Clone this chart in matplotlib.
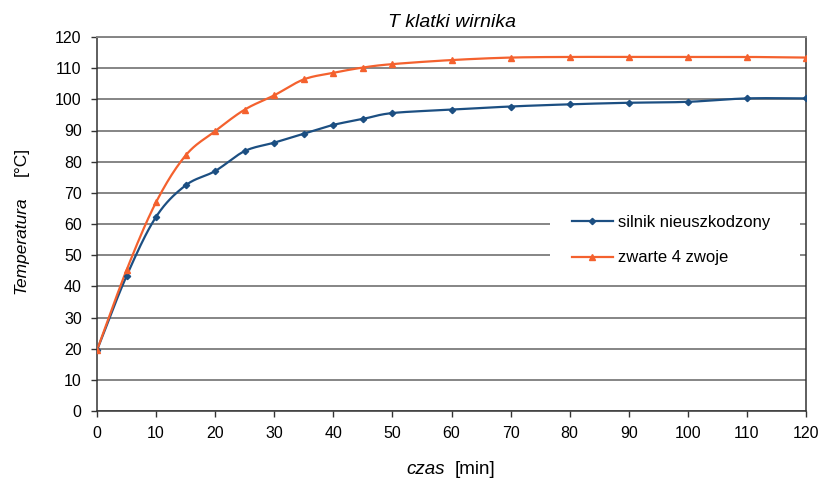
import matplotlib
matplotlib.use('Agg')
import matplotlib.pyplot as plt
from matplotlib.patches import Rectangle
import numpy as np

plt.rcParams['font.family'] = ['Liberation Sans', 'DejaVu Sans']

czas = [0, 5, 10, 15, 20, 25, 30, 35, 40, 45, 50, 60, 70, 80, 90, 100, 110, 120]
silnik = [19.5, 43.3, 62.3, 72.4, 77.0, 83.4, 86.1, 89.0, 91.8, 93.7, 95.6,
          96.7, 97.7, 98.4, 98.9, 99.2, 100.3, 100.3]
zwarte = [19.5, 45.2, 67.0, 82.0, 89.8, 96.7, 101.3, 106.4, 108.5, 110.2, 111.3,
          112.6, 113.4, 113.6, 113.6, 113.6, 113.6, 113.4]

labels = ['silnik nieuszkodzony', 'zwarte 4 zwoje']
colors = ['#1c4f82', '#f4612e']


def smooth(x, y, n=20):
    # catmull-rom style smoothing, like excel's "smoothed line"
    x = np.asarray(x, float)
    y = np.asarray(y, float)
    px = np.concatenate([[2 * x[0] - x[1]], x, [2 * x[-1] - x[-2]]])
    py = np.concatenate([[2 * y[0] - y[1]], y, [2 * y[-1] - y[-2]]])
    xs, ys = [], []
    t = np.linspace(0, 1, n)
    for i in range(1, len(px) - 2):
        mx0 = (px[i + 1] - px[i - 1]) / 2
        mx1 = (px[i + 2] - px[i]) / 2
        my0 = (py[i + 1] - py[i - 1]) / 2
        my1 = (py[i + 2] - py[i]) / 2
        h00 = 2 * t**3 - 3 * t**2 + 1
        h10 = t**3 - 2 * t**2 + t
        h01 = -2 * t**3 + 3 * t**2
        h11 = t**3 - t**2
        xs.append(h00 * px[i] + h10 * mx0 + h01 * px[i + 1] + h11 * mx1)
        ys.append(h00 * py[i] + h10 * my0 + h01 * py[i + 1] + h11 * my1)
    return np.concatenate(xs), np.concatenate(ys)


W, H = 825, 478
fig = plt.figure(figsize=(8.25, 4.78), dpi=100)
ax = fig.add_axes([97 / W, 1 - 411 / H, (806 - 97) / W, (411 - 37) / H])

for yv, lab, col, mk, ms in [(silnik, labels[0], colors[0], 'D', 3.2),
                              (zwarte, labels[1], colors[1], '^', 4.5)]:
    sx, sy = smooth(czas, yv)
    ax.plot(sx, sy, color=col, lw=1.6, zorder=3)
    ax.plot(czas, yv, linestyle='none', marker=mk, ms=ms, color=col, zorder=4)
    ax.plot([], [], color=col, lw=1.6, marker=mk, ms=ms, label=lab)

ax.set_xlim(0, 120)
ax.set_ylim(0, 120)
ax.set_xticks(range(0, 121, 10))
ax.set_yticks(range(0, 121, 10))
ax.yaxis.grid(True, color='#858585', lw=1.4)
ax.set_axisbelow(True)
ax.tick_params(direction='out', length=4, width=1, color='#333333',
               labelsize=11.5, pad=7)

for s in ['left', 'bottom', 'right']:
    ax.spines[s].set_color('#333333')
    ax.spines[s].set_linewidth(1.1)
ax.spines['top'].set_color('#858585')
ax.spines['top'].set_linewidth(1.4)

ax.set_title('T klatki wirnika', fontsize=14, style='italic', pad=7)

# white legend area (wide, but short), hides the gridlines behind the legend
ax.add_patch(Rectangle((550 / W, 1 - 272 / H), 250 / W, 64 / H,
                       transform=fig.transFigure, facecolor='white',
                       edgecolor='none', zorder=1))
ax.legend(loc='center left', bbox_to_anchor=(565 / W, 1 - 240 / H),
          bbox_transform=fig.transFigure, frameon=False, fontsize=12,
          handlelength=2.45, handletextpad=0.3, labelspacing=1.25,
          borderpad=0.4, borderaxespad=0)

fig.text(21 / W, 1 - 245 / H, 'Temperatura', rotation=90, style='italic',
         fontsize=12.5, ha='center', va='center')
fig.text(21 / W, 1 - 161 / H, '[°C]', rotation=90,
         fontsize=12.5, ha='center', va='center')
fig.text(426 / W, 1 - 469 / H, 'czas', style='italic', fontsize=13.5,
         ha='center', va='center')
fig.text(475 / W, 1 - 469 / H, '[min]', fontsize=13.5,
         ha='center', va='center')

fig.savefig('out.png', dpi=100)
